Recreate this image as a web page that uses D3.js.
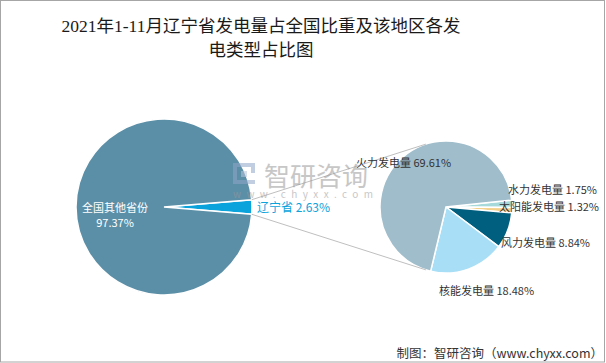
<!DOCTYPE html>
<html lang="zh">
<head>
  <meta charset="UTF-8">
  <title>2021年1-11月辽宁省发电量占全国比重及该地区各发电类型占比图</title>
  <script src="https://d3js.org/d3.v7.min.js"></script>
  <style>
    body { margin: 0; background: #fff; }
    svg text { font-family: "Noto Sans CJK SC", "Microsoft YaHei", sans-serif; }
    .title { font-family: "Liberation Serif", "Noto Sans CJK SC", serif !important; font-size: 17.5px; fill: #1a1a1a; }
    .lbl { font-size: 11px; fill: #333; }
  </style>
</head>
<body>
<div id="chart"></div>
<script>
  // ---------------- data ----------------
  const regionNames = ["辽宁省", "全国其他省份"];
  const regionShares = [2.63, 97.37];

  const typeNames = ["水力发电量", "太阳能发电量", "风力发电量", "核能发电量", "火力发电量"];
  const typeShares = [1.75, 1.32, 8.84, 18.48, 69.61];

  const titleLines = ["2021年1-11月辽宁省发电量占全国比重及该地区各发", "电类型占比图"];
  const sourceText = "制图：智研咨询（www.chyxx.com）";

  // ---------------- layout ----------------
  const W = 606, H = 363;
  const leftC = { x: 164, y: 207, r: 88 };
  const rightC = { x: 446, y: 207, r: 66 };

  const regionColors = ["#0aa3dc", "#5b8fa7"];
  const typeColors = ["#a6dada", "#f3d08a", "#005f7f", "#a8def6", "#9fbdcb"];

  const svg = d3.select("#chart").append("svg")
    .attr("width", W).attr("height", H);

  svg.append("rect")
    .attr("x", 0.5).attr("y", 0.5)
    .attr("width", W - 2).attr("height", H - 1.5)
    .attr("fill", "#fff").attr("stroke", "#a6a6a6");

  // title
  svg.append("text").attr("class", "title")
    .attr("text-anchor", "middle")
    .selectAll("tspan").data(titleLines).enter().append("tspan")
    .attr("x", 261)
    .attr("y", (d, i) => 32 + i * 24)
    .text(d => d);

  const deg = Math.PI / 180;

  // ---------------- left pie ----------------
  const leftHalf = regionShares[0] / 100 * 360 / 2;
  const leftPie = d3.pie().sort(null)
    .startAngle((90 - leftHalf) * deg)
    .endAngle((450 - leftHalf) * deg);
  const leftArcs = leftPie(regionShares);
  const leftArc = d3.arc().innerRadius(0).outerRadius(leftC.r);

  const gL = svg.append("g").attr("transform", `translate(${leftC.x},${leftC.y})`);
  gL.selectAll("path").data(leftArcs).enter().append("path")
    .attr("d", leftArc)
    .attr("fill", (d, i) => regionColors[i])
    .attr("stroke", "#fff").attr("stroke-width", 1.5);

  // ---------------- right pie ----------------
  const rightStart = 84.05;
  const rightPie = d3.pie().sort(null)
    .startAngle(rightStart * deg)
    .endAngle((rightStart + 360) * deg);
  const rightArcs = rightPie(typeShares);
  const rightArc = d3.arc().innerRadius(0).outerRadius(rightC.r);

  const gR = svg.append("g").attr("transform", `translate(${rightC.x},${rightC.y})`);
  gR.selectAll("path").data(rightArcs).enter().append("path")
    .attr("d", rightArc)
    .attr("fill", (d, i) => typeColors[i])
    .attr("stroke", "#fff").attr("stroke-width", 1.5);

  // ---------------- connector lines (tangents) ----------------
  const polar = (c, a) => [c.x + c.r * Math.sin(a), c.y - c.r * Math.cos(a)];
  const edgeTop = polar(leftC, leftArcs[0].startAngle);
  const edgeBot = polar(leftC, leftArcs[0].endAngle);

  function tangent(p, c, sign) {
    const dx = p[0] - c.x, dy = p[1] - c.y;
    const d = Math.hypot(dx, dy);
    const base = Math.atan2(dy, dx);
    const off = Math.acos(c.r / d) * sign;
    return [c.x + c.r * Math.cos(base + off), c.y + c.r * Math.sin(base + off)];
  }
  const connectors = [[edgeTop, tangent(edgeTop, rightC, 1)], [edgeBot, tangent(edgeBot, rightC, -1)]];
  svg.selectAll(".conn").data(connectors).enter().append("line")
    .attr("class", "conn")
    .attr("x1", d => d[0][0]).attr("y1", d => d[0][1])
    .attr("x2", d => d[1][0]).attr("y2", d => d[1][1])
    .attr("stroke", "#bfbfbf").attr("stroke-width", 1);

  // ---------------- watermark ----------------
  const wm = svg.append("g").attr("opacity", 0.55);
  const icon = wm.append("g").attr("transform", "translate(233,163)").attr("fill", "#8fa6c8");
  icon.append("rect").attr("x", 0).attr("y", 0).attr("width", 22).attr("height", 4);
  icon.append("rect").attr("x", 0).attr("y", 0).attr("width", 4).attr("height", 21);
  icon.append("rect").attr("x", 0).attr("y", 17).attr("width", 22).attr("height", 4);
  icon.append("rect").attr("x", 18).attr("y", 0).attr("width", 4).attr("height", 10);
  icon.append("rect").attr("x", 8).attr("y", 8).attr("width", 6).attr("height", 6).attr("fill", "#b8c6dc");
  wm.append("text").attr("x", 264).attr("y", 186)
    .attr("font-size", 26).attr("fill", "#9a9a9a").text("智研咨询");
  wm.append("text").attr("x", 233).attr("y", 198)
    .attr("font-size", 10).attr("letter-spacing", 5.4).attr("fill", "#9a9a9a").text("www.chyxx.com");

  // ---------------- labels ----------------
  svg.append("text").attr("class", "lbl")
    .attr("text-anchor", "middle").attr("fill", "#fff").style("fill", "#fff")
    .selectAll("tspan").data([regionNames[1], regionShares[1].toFixed(2) + "%"]).enter().append("tspan")
    .attr("x", 115).attr("y", (d, i) => 212 + i * 15)
    .text(d => d);

  svg.append("text").attr("class", "lbl")
    .attr("x", 257).attr("y", 211.5)
    .style("fill", "#0aa3dc").style("font-size", "12px")
    .text(`${regionNames[0]} ${regionShares[0].toFixed(2)}%`);

  const typeLabelPos = [[508, 194], [499, 211], [501, 247], [439, 295], [356, 167]];
  svg.selectAll(".tlbl").data(typeNames).enter().append("text")
    .attr("class", "lbl tlbl")
    .attr("x", (d, i) => typeLabelPos[i][0])
    .attr("y", (d, i) => typeLabelPos[i][1])
    .text((d, i) => `${d} ${typeShares[i].toFixed(2)}%`);

  // source
  svg.append("text")
    .attr("x", 603).attr("y", 358)
    .attr("text-anchor", "end")
    .attr("font-size", 12.5).attr("fill", "#333")
    .text(sourceText);
</script>
</body>
</html>
